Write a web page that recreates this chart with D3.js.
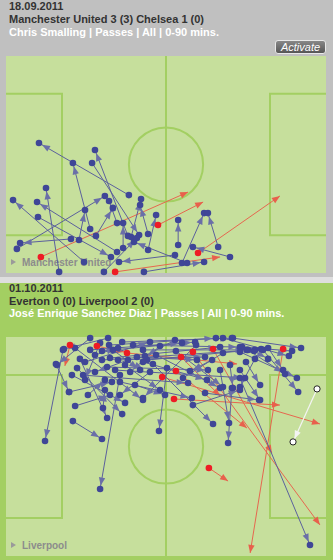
<!DOCTYPE html>
<html><head><meta charset="utf-8">
<script src="https://cdn.jsdelivr.net/npm/d3@7"></script>
<style>
html,body{margin:0;padding:0;background:#fff;}
svg{display:block;}
</style></head><body>
<svg id="chart" width="333" height="560"></svg>
<script>
// ---------- DATA ----------
const panelDates = ["18.09.2011", "01.10.2011"];
const panelScores = ["Manchester United 3 (3) Chelsea 1 (0)", "Everton 0 (0) Liverpool 2 (0)"];
const panelSubtitles = ["Chris Smalling | Passes | All | 0-90 mins.", "José Enrique Sanchez Diaz | Passes | All | 0-90 mins."];
const panelTeams = ["Manchester United", "Liverpool"];
const buttonLabel = "Activate";

// passes in pitch coordinates (0-100 length, 0-100 width): [x1, y1, x2, y2]
const topComplete = [
  [38.4,64.1,10.3,40.1],[26.3,79.7,20.9,49.3],[38.1,82.9,27.8,43.3],[26.9,49.3,41.6,82.5],
  [16.6,99.5,12.5,60.8],[24.4,94.9,2.2,66.4],[34.7,90.3,9.7,67.3],[10.0,74.2,32.8,92.6],
  [20.3,84.3,4.4,86.2],[3.4,88.9,30.9,64.5],[22.8,84.8,24.7,71.0],[28.1,82.9,33.4,70.0],
  [34.7,77.0,32.2,66.8],[39.1,83.4,42.2,65.9],[44.4,82.0,41.9,68.7],[36.6,88.5,36.6,77.0],
  [43.1,99.5,61.9,94.9],[55.0,95.4,61.9,72.4],[66.3,88.0,63.1,72.4],[53.8,87.1,53.8,75.6],
  [70.0,92.6,58.4,88.0],[44.4,89.4,46.9,73.3],[56.6,95.4,40.0,85.7],[52.8,91.7,35.3,94.9],
  [30.6,99.5,40.9,83.9]
];
const topIncomplete = [
  [10.9,92.6,56.9,62.7],[47.5,77.9,61.6,67.3],[60.0,90.8,85.6,64.5],[34.1,99.5,66.9,92.6]
];
const bottomComplete = [
  [17.8,5.9,12.2,47.5],[35.6,17.4,29.4,69.4],[20.9,38.4,30.0,46.6],[50.3,14.2,47.8,42.9],
  [70.6,23.3,69.4,48.4],[73.1,18.7,95.0,95.0],[66.9,15.1,69.7,39.3],[45.9,12.3,64.7,39.7],
  [80.3,5.9,91.3,25.1],[73.1,15.1,79.4,28.8],[26.3,0.5,15.9,12.8],[31.9,0.5,18.1,5.5],
  [21.6,5.0,42.8,28.8],[23.1,10.0,31.6,37.0],[20.6,17.4,37.2,30.1],[22.2,14.2,36.3,35.2],
  [19.7,25.1,33.1,20.5],[21.6,31.5,32.5,26.5],[30.3,32.4,30.9,24.2],[24.7,11.4,45.0,2.3],
  [26.3,5.9,55.0,2.7],[30.0,6.4,59.1,2.3],[32.2,3.7,65.6,0.5],[36.3,2.3,70.6,0.5],
  [39.7,3.7,73.1,4.6],[42.8,5.9,75.3,5.9],[30.0,10.5,77.8,5.9],[32.5,9.6,66.9,4.6],
  [35.0,10.5,62.2,9.1],[40.9,9.1,59.7,10.5],[44.1,10.5,79.7,5.5],[31.6,13.7,63.1,15.1],
  [34.1,15.1,74.7,18.7],[24.1,17.4,56.9,21.0],[35.6,20.5,58.1,27.9],[42.8,11.4,62.8,19.6],
  [46.9,8.2,66.9,23.3],[53.1,6.4,67.8,22.8],[67.8,0.5,88.4,8.7],[70.9,0.5,92.2,5.0],
  [73.8,4.6,89.4,6.4],[75.6,5.9,87.2,16.9],[77.5,6.4,81.9,10.0],[73.1,6.8,90.9,18.7],
  [77.8,10.0,73.1,22.8],[70.0,12.8,70.9,23.3],[62.2,25.6,79.1,28.8],[58.4,31.1,73.1,24.2],
  [67.8,7.3,55.3,18.7],[59.4,3.7,42.8,27.9],
  [15.6,12.3,19.7,25.1],[29.4,2.7,24.7,19.6],[38.1,10.5,27.8,16.0],[33.4,5.9,41.9,15.1],
  [37.2,12.8,48.1,24.2],[27.8,8.2,35.0,5.0],[45.0,16.0,35.6,26.5],[40.3,21.9,49.7,26.5],
  [25.6,26.5,30.9,19.6],[81.9,5.0,86.6,15.1],[64.4,10.5,57.5,15.5],[75.0,11.4,79.4,21.9],
  [52.8,1.4,43.4,8.7],[48.1,4.1,38.8,16.0]
];
const bottomIncomplete = [
  [20.0,3.7,18.4,13.2],[28.4,4.1,36.9,6.8],[37.8,7.3,72.2,12.3],[48.8,18.3,98.1,39.7],
  [52.5,28.3,85.6,31.1],[53.1,15.5,75.3,41.6],[54.7,9.1,66.9,26.9],[58.4,6.8,98.1,85.8],
  [64.7,5.5,83.1,53.0],[86.6,5.5,76.3,98.6],[63.4,59.8,69.4,65.8]
];
const bottomKey = [
  [97.2,23.7,89.7,47.9]
];

// ---------- LAYOUT / STYLE ----------
const W = 333;
const C = {
  gray: "#c0c0c0", sep: "#dedede", green: "#a3cf62", pitch: "#c6df9c", line: "#a3cf62",
  dark: "#333333", label: "#8c8c8c",
  blueDot: "#3f4697", blueLine: "#5b609d", blueHead: "#6a6fa8",
  redDot: "#ee1c25", redLine: "#e6674f", redHead: "#e8604c"
};
const panels = [
  {y0: 0, y1: 277, bg: C.gray, pitchTop: 56, pitchBottom: 273, textY: [9.7, 23.2, 36.3],
   label: 266, complete: topComplete, incomplete: topIncomplete, key: [], button: true},
  {y0: 283, y1: 560, bg: C.green, pitchTop: 337, pitchBottom: 556, textY: [291.8, 304.8, 317.2],
   label: 549, complete: bottomComplete, incomplete: bottomIncomplete, key: bottomKey, button: false}
];

const svg = d3.select("#chart");
svg.append("rect").attr("x",0).attr("y",277).attr("width",W).attr("height",6).attr("fill",C.sep);

const font = "'Liberation Sans', Arial, sans-serif";

panels.forEach((p, i) => {
  const g = svg.append("g");
  g.append("rect").attr("x",0).attr("y",p.y0).attr("width",W).attr("height",p.y1-p.y0).attr("fill",p.bg);

  const x = d3.scaleLinear().domain([0,100]).range([6,326]);
  const y = d3.scaleLinear().domain([0,100]).range([p.pitchTop,p.pitchBottom]);

  // pitch
  g.append("rect").attr("x",x(0)).attr("y",y(0)).attr("width",x(100)-x(0)).attr("height",y(100)-y(0)).attr("fill",C.pitch);
  const pl = g.append("g").attr("fill","none").attr("stroke",C.line).attr("stroke-width",2);
  pl.append("line").attr("x1",x(50)).attr("x2",x(50)).attr("y1",y(0)).attr("y2",y(100));
  pl.append("circle").attr("cx",x(50)).attr("cy",y(50)).attr("r",x(61.6)-x(50));
  pl.append("path").attr("d",`M${x(0)},${y(17.4)}H${x(17.5)}V${y(82.6)}H${x(0)}`);
  pl.append("path").attr("d",`M${x(100)},${y(17.4)}H${x(82.5)}V${y(82.6)}H${x(100)}`);

  // header
  const t = g.append("g").attr("font-family",font).attr("font-weight","bold").attr("font-size","11px");
  t.append("text").attr("x",9).attr("y",p.textY[0]).attr("fill",C.dark).text(panelDates[i]);
  t.append("text").attr("x",9).attr("y",p.textY[1]).attr("fill",C.dark).text(panelScores[i]);
  t.append("text").attr("x",9).attr("y",p.textY[2]).attr("fill","#ffffff").text(panelSubtitles[i]);

  if (p.button) {
    const b = g.append("g");
    const grad = svg.append("defs").append("linearGradient").attr("id","btn").attr("x1",0).attr("x2",0).attr("y1",0).attr("y2",1);
    grad.append("stop").attr("offset","0").attr("stop-color","#8a8a8a");
    grad.append("stop").attr("offset","1").attr("stop-color","#545454");
    b.append("rect").attr("x",275.5).attr("y",40.5).attr("width",50).attr("height",13).attr("rx",2.5)
      .attr("fill","url(#btn)").attr("stroke","#e8e8e8").attr("stroke-width",1);
    b.append("text").attr("x",300.5).attr("y",51).attr("text-anchor","middle").attr("font-family",font)
      .attr("font-style","italic").attr("font-size","11px").attr("fill","#ffffff").text(buttonLabel);
  }

  // team label
  const lb = g.append("g").attr("fill",C.label);
  lb.append("path").attr("d",`M11,${p.label-7}L16,${p.label-4}L11,${p.label-1}Z`).attr("fill","#9a9a9a");
  lb.append("text").attr("x",22).attr("y",p.label).attr("font-family",font).attr("font-weight","bold")
    .attr("font-size","10px").text(panelTeams[i]);

  const head = (d, back) => {
    const x1 = x(d[0]), y1 = y(d[1]), x2 = x(d[2]), y2 = y(d[3]);
    const a = Math.atan2(y2-y1, x2-x1);
    const tx = x2 - back*Math.cos(a), ty = y2 - back*Math.sin(a);
    const L = 8, H = 3.2;
    const bx = tx - L*Math.cos(a), by = ty - L*Math.sin(a);
    const nx = -Math.sin(a)*H, ny = Math.cos(a)*H;
    return `M${tx},${ty}L${bx+nx},${by+ny}L${bx-nx},${by-ny}Z`;
  };

  const marks = g.append("g");
  // incomplete passes (red)
  marks.selectAll("line.red").data(p.incomplete).join("line").attr("class","red")
    .attr("x1",d=>x(d[0])).attr("y1",d=>y(d[1])).attr("x2",d=>x(d[2])).attr("y2",d=>y(d[3]))
    .attr("stroke",C.redLine).attr("stroke-width",1);
  marks.selectAll("path.redh").data(p.incomplete).join("path").attr("class","redh")
    .attr("d",d=>head(d,0)).attr("fill",C.redHead);
  // complete passes (blue)
  marks.selectAll("line.blue").data(p.complete).join("line").attr("class","blue")
    .attr("x1",d=>x(d[0])).attr("y1",d=>y(d[1])).attr("x2",d=>x(d[2])).attr("y2",d=>y(d[3]))
    .attr("stroke",C.blueLine).attr("stroke-width",1);
  marks.selectAll("path.blueh").data(p.complete).join("path").attr("class","blueh")
    .attr("d",d=>head(d,3.5)).attr("fill",C.blueHead);
  // key passes (white)
  marks.selectAll("line.key").data(p.key).join("line").attr("class","key")
    .attr("x1",d=>x(d[0])).attr("y1",d=>y(d[1])).attr("x2",d=>x(d[2])).attr("y2",d=>y(d[3]))
    .attr("stroke","#f4f4f4").attr("stroke-width",1.2);
  marks.selectAll("path.keyh").data(p.key).join("path").attr("class","keyh")
    .attr("d",d=>head(d,3.5)).attr("fill","#f4f4f4");

  const ends = [];
  p.complete.forEach(d => { ends.push([d[0],d[1]]); ends.push([d[2],d[3]]); });
  marks.selectAll("circle.bd").data(ends).join("circle").attr("class","bd")
    .attr("cx",d=>x(d[0])).attr("cy",d=>y(d[1])).attr("r",3.3).attr("fill",C.blueDot);
  const keyEnds = [];
  p.key.forEach(d => { keyEnds.push([d[0],d[1]]); keyEnds.push([d[2],d[3]]); });
  marks.selectAll("circle.kd").data(keyEnds).join("circle").attr("class","kd")
    .attr("cx",d=>x(d[0])).attr("cy",d=>y(d[1])).attr("r",3.1).attr("fill","#ffffff")
    .attr("stroke","#222").attr("stroke-width",1);
  marks.selectAll("circle.rd").data(p.incomplete).join("circle").attr("class","rd")
    .attr("cx",d=>x(d[0])).attr("cy",d=>y(d[1])).attr("r",3.3).attr("fill",C.redDot);
});
</script>
</body></html>
